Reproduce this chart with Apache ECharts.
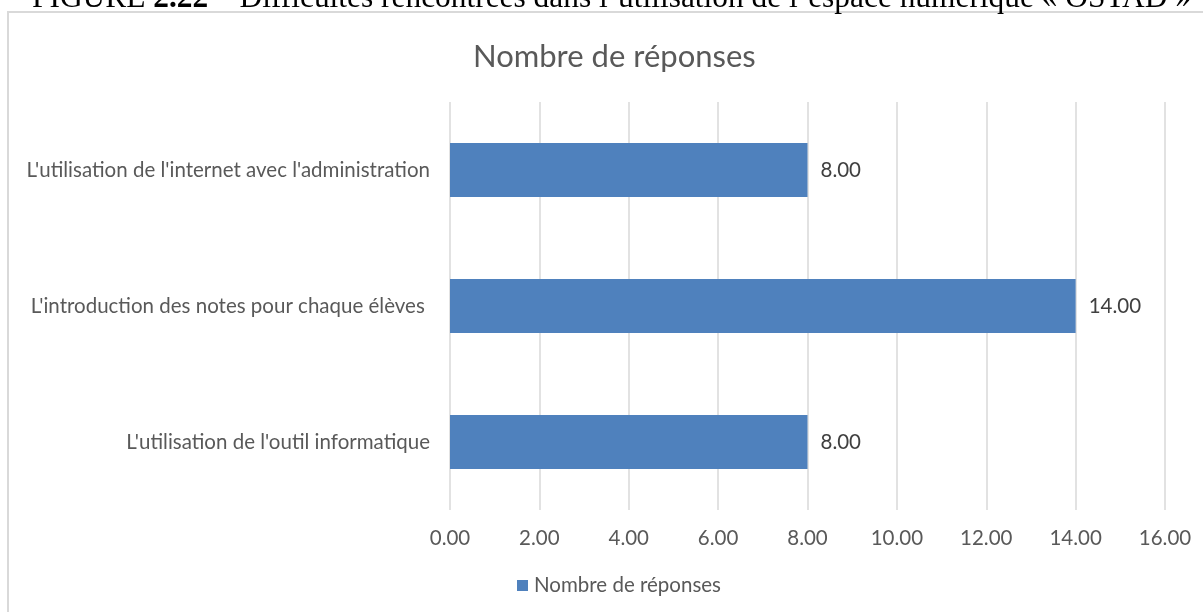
<!DOCTYPE html>
<html>
<head>
<meta charset="utf-8">
<script src="https://cdn.jsdelivr.net/npm/echarts@6/dist/echarts.min.js"></script>
<style>html,body{margin:0;padding:0;background:#fff;}#c{width:1203px;height:612px;}</style>
</head>
<body>
<div id="c"></div>
<script>
const categories = [
  "L'utilisation de l'outil informatique",
  "L'introduction des notes pour chaque élèves ",
  "L'utilisation de l'internet avec l'administration"
];
const values = [8, 14, 8];
const seriesName = 'Nombre de réponses';
const chartTitle = 'Nombre de réponses';
const captionStart = 'FIGURE ';
const captionNum = '2.22';
const captionRest = ' – Difficultés rencontrées dans l\u2019utilisation de l\u2019espace numérique « OSTAD »';

const FONT = 'Lato';
const FS = 20.5;
const chart = echarts.init(document.getElementById('c'), null, {renderer: 'canvas'});
chart.setOption({
  backgroundColor: '#ffffff',
  animation: false,
  graphic: [
    {type: 'rect', z: -10, shape: {x: 8, y: 12, width: 1300, height: 700},
     style: {fill: '#ffffff', stroke: '#d9d9d9', lineWidth: 2}},
    {type: 'text', z: 10, left: 32, top: -17,
     style: {
       text: '{a|' + captionStart + '}{b|' + captionNum + '}{a|' + captionRest + '}',
       rich: {
         a: {fontFamily: 'Liberation Serif', fontSize: 31.4, color: '#000'},
         b: {fontFamily: 'Liberation Serif', fontSize: 31.4, fontWeight: 'bold', color: '#000'}
       }
     }}
  ],
  title: {
    text: chartTitle, left: 468, top: 36,
    textStyle: {fontFamily: FONT, fontSize: 31, fontWeight: 'normal', color: '#595959'}
  },
  legend: {
    bottom: 11, left: 512,
    itemWidth: 11, itemHeight: 11, itemGap: 10,
    icon: 'rect',
    textStyle: {fontFamily: FONT, fontSize: FS, color: '#595959', padding: [0, 0, 0, 1]},
    data: [seriesName]
  },
  grid: {left: 450, right: 38, top: 102, bottom: 102, containLabel: false},
  xAxis: {
    type: 'value', min: 0, max: 16, interval: 2,
    axisLine: {show: false}, axisTick: {show: false},
    splitLine: {lineStyle: {color: '#d9d9d9', width: 1.5}},
    axisLabel: {fontFamily: FONT, fontSize: FS, color: '#595959', margin: 18,
      formatter: v => v.toFixed(2)}
  },
  yAxis: {
    type: 'category', data: categories,
    axisLine: {show: false}, axisTick: {show: false},
    axisLabel: {fontFamily: FONT, fontSize: FS, color: '#595959', margin: 20}
  },
  series: [{
    name: seriesName, type: 'bar', data: values, barWidth: 54,
    itemStyle: {color: '#4f81bd'},
    label: {show: true, position: 'right', distance: 13, fontFamily: FONT, fontSize: FS, color: '#404040',
      formatter: p => p.value.toFixed(2)}
  }]
});
</script>
</body>
</html>
